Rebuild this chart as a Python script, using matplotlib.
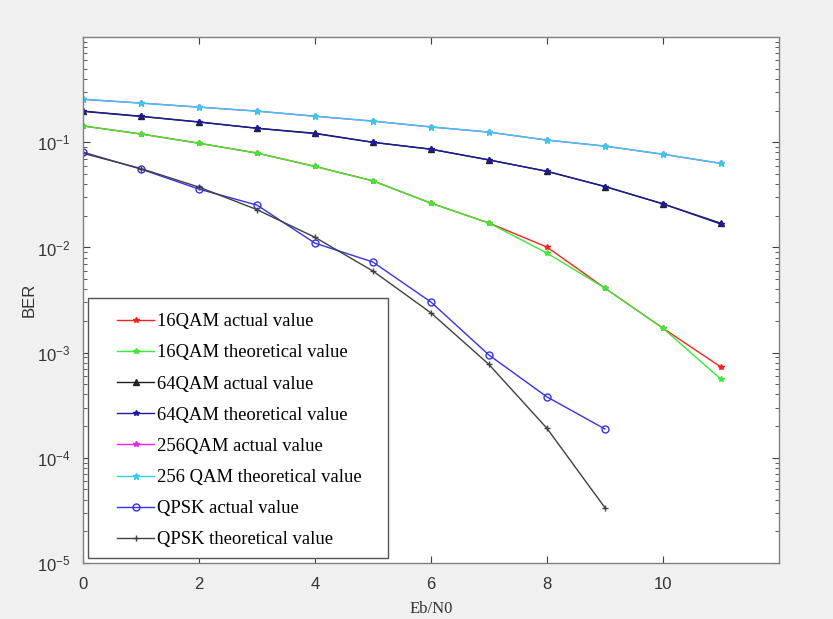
import numpy as np
import matplotlib
matplotlib.use("Agg")
import matplotlib.pyplot as plt
from matplotlib.patches import Rectangle
from matplotlib.legend_handler import HandlerLine2D
from matplotlib.ticker import LogLocator, NullFormatter

plt.rcParams["font.family"] = ["Liberation Sans", "DejaVu Sans"]
plt.rcParams["mathtext.default"] = "regular"

# Eb/N0 in dB
snr_db = [0, 1, 2, 3, 4, 5, 6, 7, 8, 9, 10, 11]
snr_qpsk = [0, 1, 2, 3, 4, 5, 6, 7, 8, 9]

ber_16qam_act = [0.143, 0.120, 0.098, 0.079, 0.059, 0.043, 0.0264, 0.0171, 0.0101, 0.00411, 0.00171, 0.00073]
ber_16qam_theo = [0.143, 0.120, 0.098, 0.079, 0.059, 0.043, 0.0264, 0.0171, 0.00885, 0.00411, 0.00171, 0.00056]
ber_64qam_act = [0.198, 0.177, 0.156, 0.136, 0.122, 0.100, 0.086, 0.068, 0.053, 0.038, 0.026, 0.017]
ber_64qam_theo = [0.197, 0.176, 0.156, 0.136, 0.121, 0.100, 0.086, 0.068, 0.053, 0.038, 0.026, 0.0167]
ber_256qam_act = [0.256, 0.236, 0.216, 0.198, 0.177, 0.159, 0.140, 0.125, 0.105, 0.092, 0.077, 0.063]
ber_256qam_theo = [0.257, 0.236, 0.216, 0.198, 0.177, 0.159, 0.140, 0.125, 0.105, 0.092, 0.077, 0.063]
ber_qpsk_act = [0.0807, 0.0556, 0.0359, 0.0253, 0.0110, 0.00727, 0.00303, 0.00095, 0.00038, 0.000188]
ber_qpsk_theo = [0.0786, 0.0563, 0.0375, 0.0229, 0.0125, 0.00597, 0.00239, 0.000773, 0.000191, 0.0000336]

labels = ["16QAM actual value", "16QAM theoretical value", "64QAM actual value",
          "64QAM theoretical value", "256QAM actual value", "256 QAM theoretical value",
          "QPSK actual value", "QPSK theoretical value"]


class ShiftedLine(HandlerLine2D):
    """Legend handle drawn only in the right part of the handle box (MATLAB look)."""
    def create_artists(self, legend, orig_handle, xdescent, ydescent, width, height, fontsize, trans):
        shift = width * 0.36
        return super().create_artists(legend, orig_handle, xdescent - shift, ydescent,
                                      width - shift, height, fontsize, trans)


fig = plt.figure(figsize=(8.33, 6.19), dpi=100, facecolor="#f0f0f0")
ax = fig.add_axes([0.0996, 0.0905, 0.8354, 0.8495])

lw = 1.0
ax.semilogy(snr_db, ber_16qam_act, "-*", color="#ff2020", lw=lw, ms=4, label=labels[0])
ax.semilogy(snr_db, ber_16qam_theo, "-*", color="#33ee33", lw=lw, ms=4, label=labels[1])
ax.semilogy(snr_db, ber_64qam_act, "-^", color="#202020", lw=lw, ms=5, mfc="#202050", label=labels[2])
ax.semilogy(snr_db, ber_64qam_theo, "-*", color="#1a1aa0", lw=lw, ms=4, label=labels[3])
ax.semilogy(snr_db, ber_256qam_act, "-*", color="#ee22ee", lw=lw, ms=4, label=labels[4])
ax.semilogy(snr_db, ber_256qam_theo, "-*", color="#33ccee", lw=lw, ms=5, label=labels[5])
ax.semilogy(snr_qpsk, ber_qpsk_act, "-o", color="#3333ee", lw=lw, ms=5, mfc="none", label=labels[6])
ax.semilogy(snr_qpsk, ber_qpsk_theo, "-+", color="#404040", lw=lw, ms=5, label=labels[7])

ax.set_xlim(0, 12)
ax.set_ylim(1e-5, 1)
ax.set_xticks([0, 2, 4, 6, 8, 10])
ax.set_yticks([1e-5, 1e-4, 1e-3, 1e-2, 1e-1])
ax.yaxis.set_minor_locator(LogLocator(base=10, subs=np.arange(2, 10), numticks=20))
ax.yaxis.set_minor_formatter(NullFormatter())

ax.tick_params(which="both", direction="in", top=True, right=True, colors="#404040",
               labelsize=12, labelcolor="#333333")
ax.tick_params(which="major", length=5)
ax.tick_params(which="minor", length=3)
ax.tick_params(axis="x", pad=10)
ax.tick_params(axis="y", pad=9)
for s in ax.spines.values():
    s.set_color("#808080")
    s.set_linewidth(1.0)

ax.set_xlabel("Eb/N0", family="Liberation Serif", fontsize=12, color="#333333")
ax.xaxis.set_label_coords(0.5, -0.072)
ax.set_ylabel("BER", fontsize=12, color="#333333")
ax.yaxis.set_label_coords(-0.066, 0.5)

# legend frame like MATLAB: wide side margins
ax.add_patch(Rectangle((0.0072, 0.0095), 0.431, 0.494, transform=ax.transAxes,
                       facecolor="white", edgecolor="#555555", lw=1.0, zorder=4))
handles, _ = ax.get_legend_handles_labels()
leg = ax.legend(handles=handles, loc="upper left", bbox_to_anchor=(0.0072, 0.491),
                borderaxespad=0, prop={"family": "Liberation Serif", "size": 13.4},
                frameon=False, handlelength=3.1, handletextpad=0.15, labelspacing=0.76,
                borderpad=0.45, handler_map={h: ShiftedLine() for h in handles})
leg.set_zorder(5)

fig.savefig("out.png", dpi=100, facecolor=fig.get_facecolor())
